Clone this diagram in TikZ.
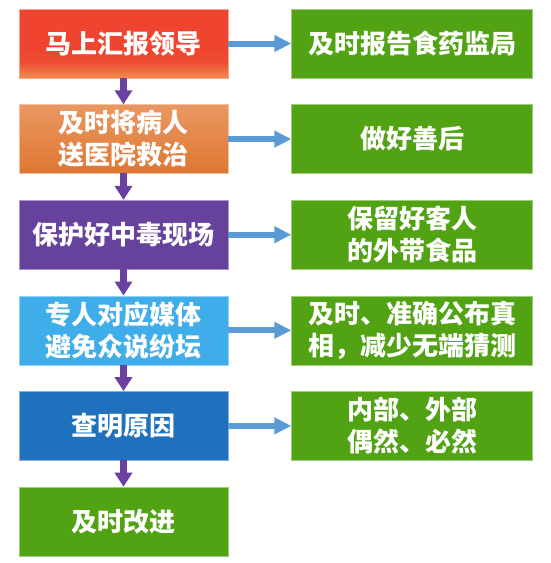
\documentclass[tikz,border=0pt]{standalone}
\usepackage{fontspec}
\usepackage{tikz}
\usetikzlibrary{arrows.meta, positioning}
\newfontfamily\cjk{Noto Sans CJK SC}
\definecolor{stepred}{HTML}{EE4430}
\definecolor{stepredlow}{HTML}{EF8C4A}
\definecolor{steporange}{HTML}{E99862}
\definecolor{steporangelow}{HTML}{DF7631}
\definecolor{steppurple}{HTML}{66429C}
\definecolor{stepsky}{HTML}{3EADEA}
\definecolor{stepblue}{HTML}{1F70BD}
\definecolor{stepgreen}{HTML}{52A314}
\definecolor{linkblue}{HTML}{5B9BD5}
\definecolor{linkpurple}{HTML}{6A40A0}
\pgfdeclareverticalshading{redfade}{100bp}{color(0bp)=(stepredlow); color(25bp)=(stepredlow); color(36bp)=(stepred!85!stepredlow); color(46bp)=(stepred); color(100bp)=(stepred)}

\begin{document}
\begin{tikzpicture}[
    x=1pt, y=-1pt,
    node distance=26pt and 63pt,
    stepbox/.style={rectangle, text=white, font=\cjk\bfseries\fontsize{26pt}{32pt}\selectfont, align=center, inner sep=0pt, minimum width=209pt, minimum height=69pt, line width=0.6pt},
    actbox/.style={stepbox, fill=stepgreen, draw=stepgreen!55!white, minimum width=241pt},
    down/.style={-{Triangle[length=14pt, width=17pt]}, line width=7pt, linkpurple, shorten <=-0.5pt},
    side/.style={-{Triangle[length=17pt, width=16pt]}, line width=6pt, linkblue}
]
\useasboundingbox (0,0) rectangle (550,563);

% Left column
\node[stepbox, shading=redfade, draw=stepred!50!white] (report) at (123.5,43.5) {马上汇报领导};
\node[stepbox, top color=steporange, bottom color=steporangelow, draw=steporange!60!white, below=of report] (hospital) {及时将病人\\送医院救治};
\node[stepbox, fill=steppurple, draw=steppurple!55!white, below=of hospital] (scene) {保护好中毒现场};
\node[stepbox, fill=stepsky, draw=stepsky!55!white, below=of scene] (media) {专人对应媒体\\避免众说纷坛};
\node[stepbox, fill=stepblue, draw=stepblue!55!white, below=of media] (cause) {查明原因};
\node[stepbox, fill=stepgreen, draw=stepgreen!55!white, below=of cause] (improve) {及时改进};

% Right column
\node[actbox, right=of report] (agency) {及时报告食药监局};
\node[actbox, right=of hospital] (aftermath) {做好善后};
\node[actbox, right=of scene] (food) {保留好客人\\的外带食品};
\node[actbox, right=of media] (truth) {及时、准确公布真\\相，减少无端猜测};
\node[actbox, right=of cause] (kinds) {内部、外部\\偶然、必然};

% Edges
\draw[down] (report) -- (hospital);
\draw[down] (hospital) -- (scene);
\draw[down] (scene) -- (media);
\draw[down] (media) -- (cause);
\draw[down] (cause) -- (improve);

\draw[side] (report) -- (agency);
\draw[side] (hospital) -- (aftermath);
\draw[side] (scene) -- (food);
\draw[side] (media) -- (truth);
\draw[side] (cause) -- (kinds);
\end{tikzpicture}
\end{document}
